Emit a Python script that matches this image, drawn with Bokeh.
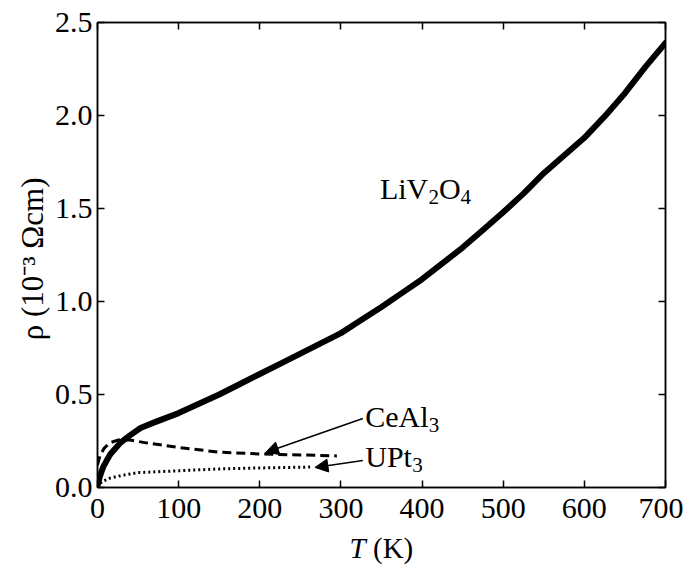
import numpy as np
from bokeh.plotting import figure
from bokeh.layouts import column
from bokeh.models import (Range1d, LinearAxis, Label, Arrow, NormalHead,
                          FixedTicker, CustomJSTickFormatter, NumeralTickFormatter)
from bokeh.embed import file_html
from bokeh.resources import INLINE

# ---- data ----
T_liv = [0, 3, 7, 12, 16, 22, 28, 40, 53, 70, 100, 125, 150, 175, 200, 225, 250,
         275, 300, 325, 350, 375, 400, 425, 450, 475, 500, 525, 550, 575, 600,
         625, 650, 675, 700]
rho_liv = [0.01, 0.06, 0.11, 0.15, 0.18, 0.21, 0.24, 0.28, 0.32, 0.35, 0.40, 0.45,
           0.50, 0.555, 0.61, 0.665, 0.72, 0.775, 0.83, 0.90, 0.97, 1.045, 1.12,
           1.205, 1.29, 1.385, 1.48, 1.58, 1.69, 1.785, 1.88, 1.995, 2.12, 2.26, 2.39]

T_ceal = [0, 3, 8, 15, 25, 40, 60, 100, 150, 200, 250, 295]
rho_ceal = [0.12, 0.17, 0.21, 0.24, 0.255, 0.255, 0.24, 0.215, 0.19, 0.18, 0.175, 0.17]

T_upt = [0, 5, 15, 30, 50, 100, 150, 200, 262]
rho_upt = [0.0, 0.03, 0.05, 0.065, 0.08, 0.09, 0.10, 0.105, 0.11]

x_ticks = [0, 100, 200, 300, 400, 500, 600, 700]
y_ticks = [0.0, 0.5, 1.0, 1.5, 2.0, 2.5]

# arrows: (x_start, y_start, x_end, y_end)
arrow_ceal = (327, 0.371, 207, 0.188)
arrow_upt = (327, 0.145, 268, 0.108)

FONT = "Liberation Serif"
RAISE = 11  # compensation for label baseline placement

p = figure(width=683, height=531, x_range=Range1d(0, 700), y_range=Range1d(0, 2.5),
           output_backend="svg", toolbar_location=None,
           min_border_left=97, min_border_right=18, min_border_top=22,
           min_border_bottom=44)
p.grid.visible = False
p.outline_line_color = "black"
p.outline_line_width = 1.5
p.background_fill_color = "white"
p.border_fill_color = "white"

p.xaxis.ticker = FixedTicker(ticks=x_ticks)
p.yaxis.ticker = FixedTicker(ticks=y_ticks)
p.yaxis.formatter = NumeralTickFormatter(format="0.0")
p.xaxis.axis_label = None

for ax in (p.xaxis[0], p.yaxis[0]):
    ax.major_tick_in = 7
    ax.major_tick_out = 0
    ax.minor_tick_in = 0
    ax.minor_tick_out = 0
    ax.axis_line_width = 1.5
    ax.major_tick_line_width = 1.5
    ax.major_label_text_font = FONT
    ax.major_label_text_font_size = "30px"
    ax.major_label_text_color = "black"
p.yaxis.major_label_standoff = 5
p.xaxis.major_label_standoff = 11

p.yaxis.axis_label = "ρ  (10⁻³ Ωcm)"
p.yaxis.axis_label_text_font = FONT
p.yaxis.axis_label_text_font_style = "normal"
p.yaxis.axis_label_text_font_size = "31px"
p.yaxis.axis_label_text_color = "black"
p.yaxis.axis_label_standoff = 2

# mirrored ticks on top and right
blank = CustomJSTickFormatter(code="return ''")
right = LinearAxis(ticker=FixedTicker(ticks=y_ticks), formatter=blank,
                   major_tick_in=7, major_tick_out=0, minor_tick_in=0, minor_tick_out=0,
                   axis_line_width=1.5, major_tick_line_width=1.5, major_label_standoff=0)
top = LinearAxis(ticker=FixedTicker(ticks=x_ticks), formatter=blank,
                 major_tick_in=7, major_tick_out=0, minor_tick_in=0, minor_tick_out=0,
                 axis_line_width=1.5, major_tick_line_width=1.5, major_label_standoff=0)
p.add_layout(right, "right")
p.add_layout(top, "above")

# curves
p.line(T_liv, rho_liv, line_width=6, line_color="black", line_join="round", line_cap="round")
p.line(T_ceal, rho_ceal, line_width=3, line_color="black", line_dash="9 5")
p.line(T_upt, rho_upt, line_width=3, line_color="black", line_dash="2 3")

# arrows
for (xs, ys, xe, ye) in (arrow_ceal, arrow_upt):
    p.add_layout(Arrow(end=NormalHead(size=13, fill_color="black", line_color="black", line_width=1),
                       x_start=xs, y_start=ys, x_end=xe, y_end=ye,
                       line_color="black", line_width=1.5))

def lab(fig, x, y, text, dx=0, dy=0, size="30px", style="normal"):
    fig.add_layout(Label(x=x, y=y, x_offset=dx, y_offset=dy + RAISE, text=text,
                         text_font=FONT, text_font_size=size, text_font_style=style,
                         text_color="black", text_align="left", text_baseline="alphabetic"))

# LiV2O4
lab(p, 348, 1.55, "LiV")
lab(p, 348, 1.55, "2", dx=48.5, dy=-9, size="21px")
lab(p, 348, 1.55, "O", dx=59, dy=0)
lab(p, 348, 1.55, "4", dx=80.5, dy=-9, size="21px")
# CeAl3
lab(p, 330, 0.32, "CeAl")
lab(p, 330, 0.32, "3", dx=63.5, dy=-8, size="21px")
# UPt3
lab(p, 330, 0.107, "UPt")
lab(p, 330, 0.107, "3", dx=47, dy=-8, size="21px")

# x axis label strip (italic T and (K)); y measured in pixels from the strip's top
p2 = figure(width=683, height=38, x_range=p.x_range, y_range=Range1d(38, 0),
            output_backend="svg", toolbar_location=None,
            x_axis_type=None, y_axis_type=None,
            min_border_left=97, min_border_right=18, min_border_top=0,
            min_border_bottom=0)
p2.grid.visible = False
p2.outline_line_color = None
p2.background_fill_color = "white"
p2.border_fill_color = "white"
lab(p2, 350, 27, "T", dx=-32, size="29px", style="italic")
lab(p2, 350, 27, "(K)", dx=-32 + 23.5, size="29px")

layout = column(p, p2, spacing=0)
open("out.html", "w").write(file_html(layout, INLINE))
